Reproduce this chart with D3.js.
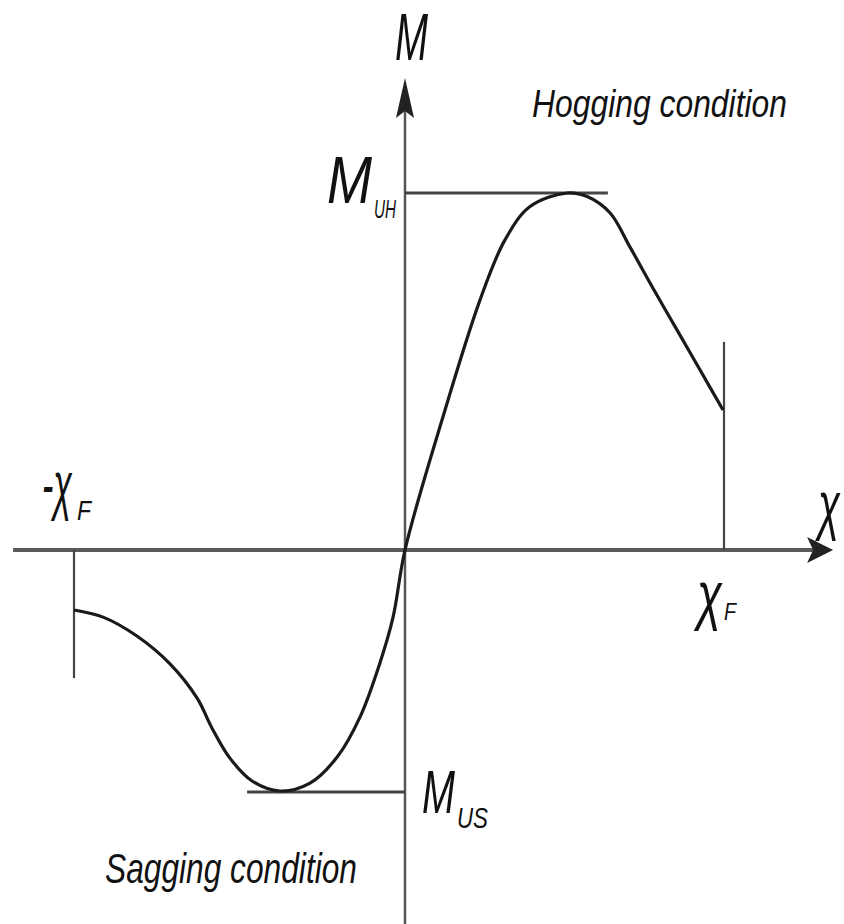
<!DOCTYPE html>
<html>
<head>
<meta charset="utf-8">
<script src="https://cdn.jsdelivr.net/npm/d3@7/dist/d3.min.js"></script>
<style>
  html, body { margin: 0; padding: 0; background: #fff; }
  svg text { font-family: "Liberation Sans Narrow", "Liberation Sans", Arial, sans-serif; font-style: italic; fill: #111; }
</style>
</head>
<body>
<div id="chart"></div>
<script>
// curvature (chi / chi_F) and moment (M / M_UH)
const curveX = [-1.0, -0.912, -0.81, -0.71, -0.628, -0.583, -0.529, -0.462, -0.378, -0.287, -0.205, -0.136, -0.076, -0.036, 0,
                0.116, 0.235, 0.313, 0.392, 0.508, 0.571, 0.643, 0.705, 0.777, 0.853, 0.925, 0.997];
const curveM = [-0.168, -0.188, -0.241, -0.319, -0.415, -0.499, -0.583, -0.647, -0.675, -0.653, -0.58, -0.468, -0.317, -0.188, 0,
                0.364, 0.7, 0.868, 0.962, 1.0, 0.99, 0.944, 0.849, 0.734, 0.616, 0.504, 0.392];

const chiF = 1;        // failure curvature
const mUH = 1;         // ultimate hogging moment
const mUS = -0.678;    // ultimate sagging moment
const uhLineEnd = 0.636;
const usLineStart = -0.477;
const chiFTop = 0.583;     // right marker top
const negChiFBottom = -0.359;
const xAxisExtent = [-1.184, 1.342];
const yAxisExtent = [-1.05, 1.322];

const W = 844, H = 924;

const x = d3.scaleLinear().domain([-1, 0, 1]).range([74, 405, 724]);
const y = d3.scaleLinear().domain([0, 1]).range([550, 193]);

const svg = d3.select('#chart').append('svg')
    .attr('width', W)
    .attr('height', H);

// axes
svg.append('line')
    .attr('x1', x(xAxisExtent[0])).attr('x2', x(xAxisExtent[1]) - 10)
    .attr('y1', y(0)).attr('y2', y(0))
    .attr('stroke', '#5a5a5a').attr('stroke-width', 4);

svg.append('line')
    .attr('x1', x(0)).attr('x2', x(0))
    .attr('y1', y(yAxisExtent[0])).attr('y2', y(yAxisExtent[1]) + 10)
    .attr('stroke', '#555').attr('stroke-width', 2.5);

// arrow heads
const hx = x(xAxisExtent[1]), hy = y(0);
svg.append('path')
    .attr('d', `M${hx},${hy} L${hx - 26},${hy - 13} L${hx - 20},${hy} L${hx - 26},${hy + 13} Z`)
    .attr('fill', '#222');
const vx = x(0), vy = y(yAxisExtent[1]);
svg.append('path')
    .attr('d', `M${vx},${vy} L${vx - 9},${vy + 40} L${vx},${vy + 33} L${vx + 9},${vy + 40} Z`)
    .attr('fill', '#222');

// reference lines
const refs = [
    [0, mUH, uhLineEnd, mUH],
    [usLineStart, mUS, 0, mUS],
    [chiF, 0, chiF, chiFTop],
    [-chiF, 0, -chiF, negChiFBottom]
];
svg.selectAll('line.ref')
    .data(refs)
    .enter()
    .append('line')
    .attr('class', 'ref')
    .attr('x1', d => x(d[0])).attr('y1', d => y(d[1]))
    .attr('x2', d => x(d[2])).attr('y2', d => y(d[3]))
    .attr('stroke', '#444')
    .attr('stroke-width', d => d[1] === d[3] ? 3 : 2.2);

// moment-curvature curve
const line = d3.line()
    .x(d => x(d[0]))
    .y(d => y(d[1]))
    .curve(d3.curveCatmullRom.alpha(0.5));

svg.append('path')
    .datum(curveX.map((v, i) => [v, curveM[i]]))
    .attr('d', line)
    .attr('fill', 'none')
    .attr('stroke', '#1a1a1a')
    .attr('stroke-width', 3.2);

// labels: main part plus optional subscript, kept in one text element
function label(parts, px, py) {
    const t = svg.append('text').attr('x', px).attr('y', py);
    parts.forEach((p, i) => {
        const ts = t.append('tspan')
            .attr('font-size', p.size)
            .attr('textLength', p.w)
            .attr('lengthAdjust', 'spacingAndGlyphs')
            .text(p.t);
        if (i > 0) ts.attr('x', p.x).attr('y', p.y);
    });
    return t;
}

label([{ t: 'M', size: 66, w: 33 }], 395, 60);
label([{ t: 'Hogging condition', size: 38, w: 255 }], 532, 117);
label([{ t: 'M', size: 66, w: 45 }, { t: 'UH', size: 25, w: 22, x: 374, y: 218 }], 327, 203);
label([{ t: 'M', size: 62, w: 33 }, { t: 'US', size: 29, w: 31, x: 457, y: 828 }], 422, 813);
label([{ t: 'Sagging condition', size: 43, w: 252 }], 105, 883);

label([{ t: 'χ', size: 64, w: 22 }], 818, 527);
label([{ t: 'χ', size: 64, w: 25 }, { t: 'F', size: 24, w: 12, x: 724, y: 620 }], 697, 617);
label([{ t: '-χ', size: 64, w: 30 }, { t: 'F', size: 28, w: 14, x: 77, y: 520 }], 42, 507);
</script>
</body>
</html>
